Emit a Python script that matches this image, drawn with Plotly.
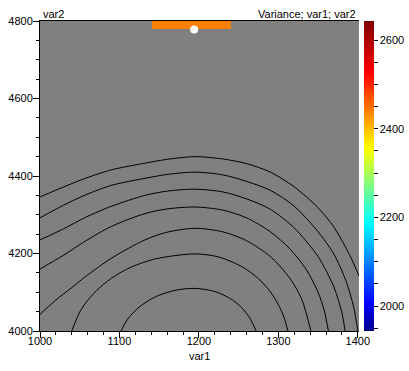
import plotly.graph_objects as go

# ---- data ----
# contour lines (outermost to innermost), var1 / var2 coordinates
c1_x = [1000, 1030, 1057, 1090, 1132, 1160, 1195, 1230, 1260, 1290, 1320, 1350, 1370, 1390, 1402]
c1_y = [4346, 4372, 4394, 4416, 4433, 4443, 4450, 4444, 4432, 4410, 4372, 4318, 4268, 4195, 4140]
c2_x = [1000, 1030, 1057, 1090, 1132, 1160, 1195, 1230, 1260, 1290, 1320, 1350, 1370, 1385, 1395, 1400]
c2_y = [4292, 4325, 4351, 4376, 4394, 4404, 4410, 4403, 4386, 4363, 4322, 4256, 4198, 4130, 4060, 4000]
c3_x = [1000, 1030, 1057, 1090, 1132, 1160, 1195, 1230, 1260, 1290, 1320, 1350, 1370, 1380, 1384]
c3_y = [4235, 4264, 4293, 4322, 4350, 4361, 4366, 4359, 4341, 4314, 4266, 4192, 4113, 4047, 4000]
c4_x = [1000, 1030, 1057, 1090, 1132, 1160, 1195, 1230, 1260, 1290, 1315, 1335, 1350, 1358, 1363]
c4_y = [4160, 4196, 4232, 4270, 4303, 4315, 4320, 4312, 4292, 4256, 4211, 4159, 4100, 4051, 4000]
c5_x = [1000, 1020, 1040, 1057, 1090, 1132, 1160, 1195, 1230, 1260, 1290, 1310, 1320, 1330, 1341]
c5_y = [4043, 4080, 4112, 4140, 4188, 4235, 4255, 4265, 4256, 4233, 4192, 4148, 4119, 4079, 4000]
c6_x = [1040, 1050, 1060, 1075, 1095, 1115, 1145, 1195, 1225, 1255, 1275, 1290, 1300, 1307, 1312]
c6_y = [4000, 4049, 4079, 4112, 4143, 4165, 4186, 4199, 4191, 4165, 4135, 4101, 4068, 4036, 4000]
c7_x = [1102, 1110, 1125, 1145, 1170, 1195, 1220, 1240, 1255, 1265, 1272]
c7_y = [4000, 4030, 4062, 4088, 4105, 4110, 4102, 4083, 4058, 4030, 4000]

# high-variance patch at the top edge (cell edges) and its value
patch_x = [1141, 1240]
patch_y = [4780, 4800]
patch_z = [[2440]]

# marked point
point_x = [1194]
point_y = [4778]

# colour scale range and ticks
z_min = 1944
z_max = 2643
cbar_ticks = [1950, 2000, 2050, 2100, 2150, 2200, 2250, 2300, 2350, 2400, 2450, 2500, 2550, 2600]
cbar_labels = ["", "2000", "", "", "", "2200", "", "", "", "2400", "", "", "", "2600"]

x_range = [1000, 1401.5]
y_range = [4000, 4800]

jet = [
    [0.0, "rgb(0,0,140)"],
    [0.09, "rgb(0,0,255)"],
    [0.35, "rgb(0,255,255)"],
    [0.59, "rgb(255,255,0)"],
    [0.83, "rgb(255,0,0)"],
    [1.0, "rgb(128,0,0)"],
]

FONT = "Arial, Liberation Sans, sans-serif"

fig = go.Figure()

fig.add_trace(go.Heatmap(
    x=patch_x, y=patch_y, z=patch_z,
    zmin=z_min, zmax=z_max, colorscale=jet,
    showscale=True, hoverinfo="skip",
    colorbar=dict(
        thickness=10, thicknessmode="pixels",
        len=1, lenmode="fraction", y=0.5, yanchor="middle",
        x=1.0157, xanchor="left", xpad=0, ypad=0,
        outlinewidth=0,
        tickmode="array", tickvals=cbar_ticks, ticktext=cbar_labels,
        ticks="outside", ticklen=4, tickcolor="black", tickwidth=1,
        tickfont=dict(family=FONT, size=11, color="black"),
    ),
))

for cx, cy in [(c1_x, c1_y), (c2_x, c2_y), (c3_x, c3_y), (c4_x, c4_y),
               (c5_x, c5_y), (c6_x, c6_y), (c7_x, c7_y)]:
    fig.add_trace(go.Scatter(
        x=cx, y=cy, mode="lines",
        line=dict(color="black", width=1, shape="spline", smoothing=0.8),
        hoverinfo="skip", showlegend=False,
    ))

fig.add_trace(go.Scatter(
    x=point_x, y=point_y, mode="markers",
    marker=dict(color="white", size=8, line=dict(width=0)),
    showlegend=False, cliponaxis=False, hoverinfo="skip",
))

axis_common = dict(
    showgrid=False, zeroline=False, automargin=False,
    showline=True, linecolor="black", linewidth=1,
    ticks="outside", ticklen=6, tickcolor="black", tickwidth=1,
    tickfont=dict(family=FONT, size=11, color="black"),
)

fig.update_layout(
    width=409, height=371,
    margin=dict(l=40, r=50, t=21, b=40, autoexpand=False),
    paper_bgcolor="white",
    plot_bgcolor="rgb(128,128,128)",
    showlegend=False,
    xaxis=dict(range=x_range, tickmode="linear", tick0=1000, dtick=100,
               mirror=True, ticklabelstandoff=-6,
               minor=dict(ticks="outside", ticklen=3, tickcolor="black", dtick=20, tick0=1000),
               **axis_common),
    yaxis=dict(range=y_range, tickmode="linear", tick0=4000, dtick=200,
               ticklabelstandoff=-2,
               minor=dict(ticks="outside", ticklen=3, tickcolor="black", dtick=50, tick0=4000),
               **axis_common),
    annotations=[
        dict(text="var2", xref="paper", yref="paper", x=0, y=1, xanchor="left", yanchor="bottom",
             showarrow=False, font=dict(family=FONT, size=11, color="black"), xshift=1, yshift=-1),
        dict(text="Variance; var1; var2", xref="paper", yref="paper", x=1, y=1, xanchor="right",
             yanchor="bottom", showarrow=False, font=dict(family=FONT, size=11, color="black"),
             xshift=-1, yshift=-1),
        dict(text="var1", xref="paper", yref="paper", x=0.5, y=0, xanchor="center", yanchor="top",
             showarrow=False, font=dict(family=FONT, size=11, color="black"), yshift=-17),
    ],
)

fig.write_html("out.html", config={"displayModeBar": False},
               post_script="document.body.style.margin='0px';")
